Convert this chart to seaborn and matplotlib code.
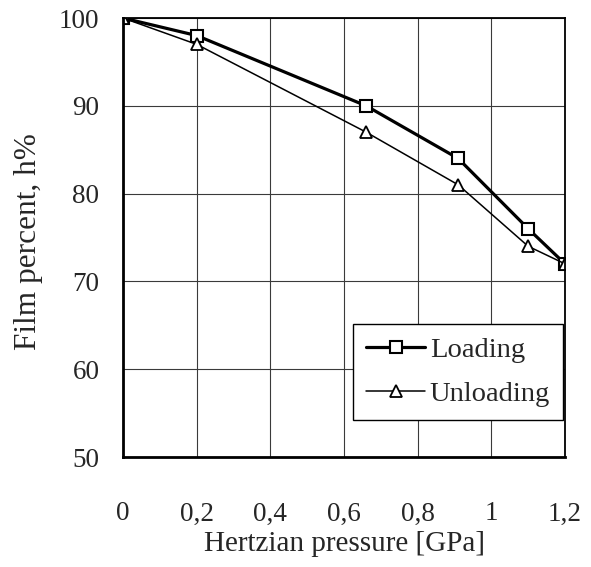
import seaborn as sns
import matplotlib.pyplot as plt
from matplotlib.ticker import FuncFormatter

# values
pressure = [0, 0.2, 0.66, 0.91, 1.1, 1.2]
loading = [100, 98, 90, 84, 76, 72]
unloading = [100, 97, 87, 81, 74, 72]
x_ticks = [0, 0.2, 0.4, 0.6, 0.8, 1.0, 1.2]
y_ticks = [50, 60, 70, 80, 90, 100]

sns.set_style("white")
plt.rcParams['font.family'] = ['Liberation Serif', 'DejaVu Serif']

fig, ax = plt.subplots(figsize=(5.91, 5.67), dpi=100)
fig.subplots_adjust(left=123/591, right=565/591, top=1-18/567, bottom=1-457/567)

sns.lineplot(x=pressure, y=loading, ax=ax, color='black', linewidth=2.3,
             marker='s', markersize=9, markerfacecolor='white',
             markeredgecolor='black', markeredgewidth=1.5, label='Loading')
sns.lineplot(x=pressure, y=unloading, ax=ax, color='black', linewidth=1.1,
             marker='^', markersize=9, markerfacecolor='white',
             markeredgecolor='black', markeredgewidth=1.3, label='Unloading')

ax.set_xlim(0, 1.2)
ax.set_ylim(50, 100)
ax.set_xticks(x_ticks)
ax.set_yticks(y_ticks)
ax.xaxis.set_major_formatter(FuncFormatter(lambda v, p: f"{v:g}".replace('.', ',')))
ax.grid(True, color='#3a3a3a', linewidth=0.8)
ax.set_axisbelow(True)

ax.tick_params(axis='x', length=0, pad=32, labelsize=19.5)
ax.tick_params(axis='y', length=0, pad=17, labelsize=19.5)
ax.set_xlabel('Hertzian pressure [GPa]', fontsize=21, labelpad=3)
ax.set_ylabel('Film percent, h%', fontsize=22.5)
ax.yaxis.set_label_coords(-0.181, 0.49)

for side in ['left', 'bottom']:
    ax.spines[side].set_linewidth(2.0)
for side in ['top', 'right']:
    ax.spines[side].set_linewidth(1.3)
for s in ax.spines.values():
    s.set_color('black')
    s.set_zorder(5)

leg = ax.legend(loc='lower right', bbox_to_anchor=(0.995, 0.084), borderaxespad=0,
                fancybox=False, edgecolor='black', framealpha=1, fontsize=20.5,
                handlelength=2.1, handletextpad=0.15, labelspacing=0.65,
                borderpad=0.45)
leg.get_frame().set_linewidth(1.0)

plt.savefig('out.png', dpi=100)
